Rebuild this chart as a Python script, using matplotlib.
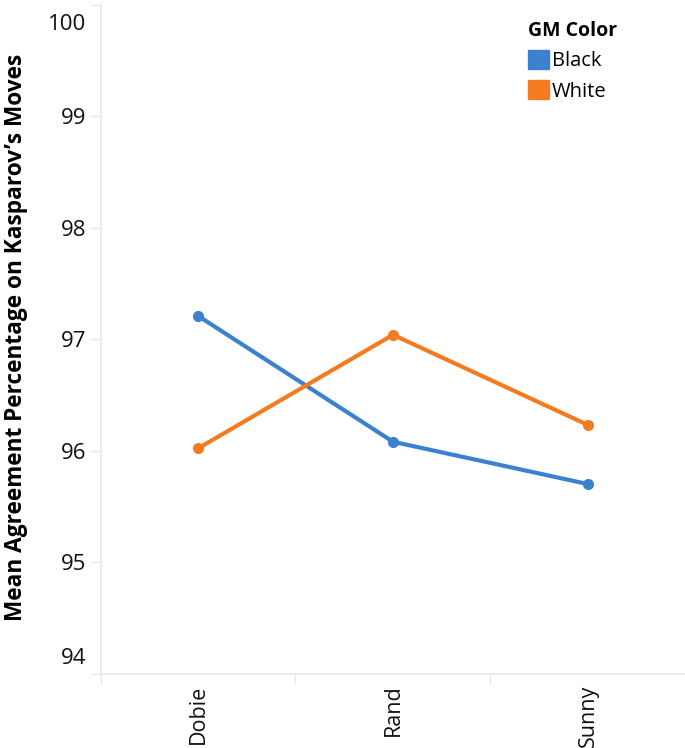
import matplotlib
matplotlib.use("Agg")
import matplotlib.pyplot as plt
import matplotlib.patches as mpatches
from matplotlib.transforms import ScaledTranslation

# Données
players = ["Dobie", "Rand", "Sunny"]
black_vals = [97.21, 96.08, 95.70]
white_vals = [96.02, 97.04, 96.23]
y_ticks = [94, 95, 96, 97, 98, 99, 100]

BLUE = "#3b81d0"
ORANGE = "#f57b20"
AXIS_GREY = "#e8e8e8"

plt.rcParams["font.family"] = ["Open Sans", "DejaVu Sans"]

fig = plt.figure(figsize=(6.85, 7.48), dpi=100)
ax = fig.add_axes([100.5 / 685, 74.5 / 748, 585 / 685, 668.5 / 748])

x = list(range(len(players)))
ax.plot(x, black_vals, color=BLUE, linewidth=3, marker="o", markersize=7,
        solid_capstyle="round", zorder=3)
ax.plot(x, white_vals, color=ORANGE, linewidth=3, marker="o", markersize=7,
        solid_capstyle="round", zorder=3)

ax.set_xlim(-0.5, len(players) - 0.5)
ax.set_ylim(94, 100)

ax.set_yticks(y_ticks)
ax.set_yticklabels([str(v) for v in y_ticks], fontsize=16, color="#111111")
ax.tick_params(axis="y", length=7, width=1, color=AXIS_GREY, pad=3)

# Les étiquettes extrêmes sont décalées vers l'intérieur de l'axe
ticks = ax.yaxis.get_major_ticks()
shift = 0.17  # pouces (~17 px)
ticks[0].label1.set_transform(ticks[0].label1.get_transform()
                              + ScaledTranslation(0, shift, fig.dpi_scale_trans))
ticks[-1].label1.set_transform(ticks[-1].label1.get_transform()
                               + ScaledTranslation(0, -shift, fig.dpi_scale_trans))

ax.set_xticks(x)
ax.set_xticklabels(players, rotation=90, fontsize=15.5, color="#111111")
ax.tick_params(axis="x", which="major", length=0, pad=8)
ax.set_xticks([-0.5, 0.5, 1.5], minor=True)
ax.tick_params(axis="x", which="minor", length=7, width=1, color=AXIS_GREY)

for side in ["top", "right"]:
    ax.spines[side].set_visible(False)
for side in ["left", "bottom"]:
    ax.spines[side].set_color(AXIS_GREY)
    ax.spines[side].set_linewidth(1.2)

ax.set_ylabel("Mean Agreement Percentage on Kasparov\u2019s Moves",
              fontsize=16.3, fontweight="bold")
ax.yaxis.set_label_coords(-0.124, 0.503)

handles = [
    mpatches.Patch(facecolor=BLUE, edgecolor=BLUE, label="Black"),
    mpatches.Patch(facecolor=ORANGE, edgecolor=ORANGE, label="White"),
]
leg = ax.legend(handles=handles, title="GM Color", loc="upper left",
                bbox_to_anchor=(0.717, 0.988), frameon=False, fontsize=14.5,
                title_fontproperties={"weight": "bold", "size": 14},
                handlelength=1.05, handleheight=1.05, handletextpad=0.15,
                labelspacing=0.45, borderaxespad=0)
leg._legend_box.align = "left"

fig.savefig("out.png", dpi=100)
